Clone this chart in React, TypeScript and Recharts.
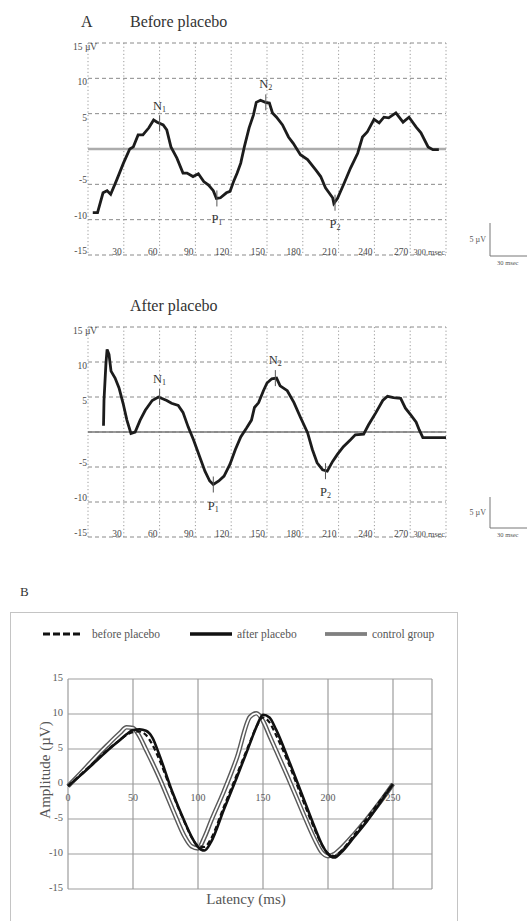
import React from "react";
import {
  LineChart,
  Line,
  XAxis,
  YAxis,
  CartesianGrid,
  ReferenceLine,
  ReferenceDot,
} from "recharts";

const serif = '"Liberation Serif", "DejaVu Serif", serif';

// panel A axes
const msTicks = [0, 30, 60, 90, 120, 150, 180, 210, 240, 270, 300];
const uvTicks = [-15, -10, -5, 0, 5, 10, 15];

// before placebo trace (ms, µV)
const beforeMs = [
  4, 8, 12.6, 16, 19, 24, 29.7, 35, 38, 42, 46, 51, 55, 58, 63, 66, 69.5, 74.5, 79.6, 83, 88,
  92.5, 97, 101, 105, 107.6, 111, 116, 119, 122, 125, 128, 131, 135, 138.6, 141, 144.5, 148.7,
  152, 154.6, 158, 163, 168, 172, 178, 184, 191, 195, 199, 205, 206, 209, 214, 220, 226, 230,
  234, 239.7, 244, 248, 252, 258, 264, 269, 275, 279, 285, 289, 294,
];
const beforeUv = [
  -9, -9, -6.2, -5.9, -6.4, -4.4, -2, 0, 0.3, 2, 2, 3, 4.1, 3.8, 3.4, 2.7, 0.3, -1.3, -3.4, -3.4,
  -3.9, -3.5, -4.6, -5.1, -5.9, -7, -6.9, -6.2, -6, -4.6, -3.4, -2, 0.3, 3, 4.8, 6.6, 6.9, 6.6,
  6.5, 5.1, 4.5, 3.4, 1.7, 0.8, -0.8, -1.5, -3, -3.9, -5.5, -6.9, -7.7, -7, -5.1, -2.7, -0.6,
  1.7, 2.4, 4.2, 3.7, 4.5, 4.4, 5.1, 3.8, 4.5, 3.1, 2.3, 0.3, -0.1, -0.1,
];

// after placebo trace (ms, µV)
const afterMs = [
  13, 13.4, 15, 16, 17.6, 19.3, 22.7, 26, 29.4, 32.6, 36, 39.5, 43.7, 48, 53.8, 59, 66, 70,
  75.6, 79.6, 84, 88.4, 93.5, 98, 102, 105, 109.6, 114, 119, 123.5, 128, 133, 137, 139.5, 143,
  147, 150, 154, 158, 161, 167, 172.6, 178, 184, 188, 192, 196.6, 200.5, 205, 209, 214, 220,
  224, 231, 235, 241, 247, 251, 256, 262, 266, 270.6, 275, 277.6, 280.6, 287, 300,
];
const afterUv = [
  0.9, 4.5, 9.7, 11.8, 11.1, 8.7, 7.7, 6.3, 4.1, 1.7, -0.2, 0, 1.7, 3.1, 4.5, 5, 4.5, 4.1, 3.8,
  2.8, 0.7, -1.1, -3.5, -5.6, -7, -7.5, -7, -6.3, -4.6, -2.5, -0.7, 0.6, 1.7, 3.5, 4.2, 5.9, 7,
  7.6, 7.7, 6.6, 5.9, 4.2, 2.1, -0.1, -2.5, -4.4, -5.4, -5.6, -4.2, -3.2, -2.1, -1.1, -0.4,
  -0.3, 1, 2.7, 4.5, 5.1, 4.9, 4.8, 3.4, 2.4, 1.4, 0.3, -0.8, -0.8, -0.8,
];

// peak markers
const peakNames = ["N", "P", "N", "P"];
const peakSubs = ["1", "1", "2", "2"];
const beforePeakMs = [60, 108, 149, 207];
const beforePeakUv = [3.6, -7, 6.6, -7.6];
const afterPeakMs = [60, 105, 157, 199];
const afterPeakUv = [5.0, -7.5, 7.7, -5.6];

// panel B
const latency = [
  0, 10, 20, 30, 40, 45, 50, 55, 60, 65, 70, 80, 90, 95, 100, 105, 110, 120, 130, 140, 145, 150,
  155, 160, 170, 180, 190, 195, 200, 205, 210, 220, 230, 240, 250,
];
const grpBefore = [
  -0.3, 1.4, 3.1, 4.8, 6.3, 7.0, 7.4, 7.5, 7.0, 5.6, 3.6, -1.2, -5.6, -7.6, -8.8, -9.0, -7.8,
  -3.2, 1.4, 6.0, 8.2, 9.5, 8.8, 7.0, 2.8, -2.0, -6.6, -8.6, -9.9, -10.3, -9.6, -7.3, -4.9, -2.4, 0,
];
const grpAfter = [
  -0.3, 1.3, 3.0, 4.7, 6.3, 7.1, 7.7, 7.8, 7.6, 6.6, 4.3, -1.0, -5.5, -7.5, -9.0, -9.5, -8.3,
  -3.6, 1.0, 5.8, 8.2, 9.9, 9.5, 7.8, 3.3, -1.5, -6.3, -8.5, -10.0, -10.5, -9.8, -7.6, -5.3, -2.7, 0,
];
const grpControl = [
  -0.3, 1.6, 3.6, 5.5, 7.3, 8.1, 8.0, 6.8, 4.9, 3.0, 1.0, -3.4, -7.6, -8.9, -9.2, -7.6, -5.3,
  -1.0, 3.8, 9.6, 10.1, 9.0, 6.9, 4.8, 0.6, -3.8, -8.0, -9.7, -10.3, -10.0, -9.2, -7.2, -5.0, -2.6, 0,
];
const latTicks = [0, 50, 100, 150, 200, 250];
const ampTicks = [-15, -10, -5, 0, 5, 10, 15];

const tickStyle = { fill: "#4a4a4a", stroke: "none" };

const MsTick = (props: any) => {
  const { x, y, payload } = props;
  if (payload.value === 0) return <g />;
  const last = payload.value === 300;
  return (
    <text
      x={x - (last ? 1 : 2)}
      y={y - 3}
      textAnchor="end"
      dominantBaseline="central"
      fontSize={last ? 8.3 : 9.5}
      style={tickStyle}
      fontFamily={serif}
    >
      {last ? "300 msec" : String(payload.value)}
    </text>
  );
};

const UvTick = (props: any) => {
  const { x, y, payload } = props;
  const v = payload.value;
  if (v === 0) return <g />;
  const dy = v > 0 ? 4 : -4;
  if (v === 15) {
    return (
      <text x={x - 15} y={y + dy} textAnchor="start" dominantBaseline="central" fontSize={9.5} style={tickStyle} fontFamily={serif}>
        15 µV
      </text>
    );
  }
  return (
    <text x={x - 1} y={y + dy} textAnchor="end" dominantBaseline="central" fontSize={9.5} style={tickStyle} fontFamily={serif}>
      {v}
    </text>
  );
};

function PeakMark({ cx, cy, name, sub }: any) {
  const up = name === "N";
  return (
    <g>
      <line x1={cx} x2={cx} y1={cy - 8} y2={cy + 8} stroke="#555" strokeWidth={1} />
      <text x={cx} y={up ? cy - 14 : cy + 25} textAnchor="middle" fontSize={12.5} style={{ fill: "#333" }} fontFamily={serif}>
        {name}
        <tspan fontSize={8} dy={2}>
          {sub}
        </tspan>
      </text>
    </g>
  );
}

function TraceChart({ top, ms, uv, pMs, pUv, zeroColor, zeroWidth, plotTop, plotBottom }: any) {
  const H = 280;
  const data = ms.map((m: number, i: number) => ({ ms: m, uv: uv[i] }));
  return (
    <div style={{ position: "absolute", left: 0, top }}>
      <LineChart
        width={527}
        height={H}
        data={data}
        margin={{ top: plotTop, right: 81, bottom: H - plotBottom - 1, left: 58 }}
      >
        <CartesianGrid vertical={false} stroke="#8a8a8a" strokeDasharray="4 3" />
        <CartesianGrid horizontal={false} stroke="#9a9a9a" strokeDasharray="1.2 2.4" />
        <XAxis
          type="number"
          dataKey="ms"
          domain={[0, 300]}
          ticks={msTicks}
          interval={0}
          axisLine={false}
          tickLine={false}
          tickSize={0}
          tickMargin={0}
          height={1}
          tick={(p: any) => <MsTick {...p} />}
        />
        <YAxis
          type="number"
          domain={[-15, 15]}
          ticks={uvTicks}
          interval={0}
          axisLine={false}
          tickLine={false}
          tickSize={0}
          tickMargin={0}
          width={30}
          tick={(p: any) => <UvTick {...p} />}
        />
        <ReferenceLine y={0} stroke={zeroColor} strokeWidth={zeroWidth} />
        <Line type="linear" dataKey="uv" stroke="#1c1c1c" strokeWidth={2.8} dot={false} isAnimationActive={false} />
        {pMs.map((m: number, i: number) => (
          <ReferenceDot
            key={i}
            x={m}
            y={pUv[i]}
            r={0}
            shape={(sp: any) => <PeakMark cx={sp.cx} cy={sp.cy} name={peakNames[i]} sub={peakSubs[i]} />}
          />
        ))}
      </LineChart>
    </div>
  );
}

const B_PLOT_H = 210;

const LatTick = (props: any) => {
  const { x, y, payload } = props;
  return (
    <text x={x} y={y - B_PLOT_H / 2 + 13} textAnchor="middle" dominantBaseline="central" fontSize={10} style={{ fill: "#5a5a5a" }} fontFamily={serif}>
      {payload.value}
    </text>
  );
};

const AmpTick = (props: any) => {
  const { x, y, payload } = props;
  return (
    <text x={x - 5} y={y - 2} textAnchor="end" dominantBaseline="central" fontSize={10.5} style={{ fill: "#5a5a5a" }} fontFamily={serif}>
      {payload.value}
    </text>
  );
};

function GroupChart() {
  const data = latency.map((t, i) => ({
    t,
    before: grpBefore[i],
    after: grpAfter[i],
    control: grpControl[i],
  }));
  return (
    <div style={{ position: "absolute", left: 0, top: 560 }}>
      <LineChart width={470} height={361} data={data} margin={{ top: 119, right: 38, bottom: 31, left: 38 }}>
        <CartesianGrid stroke="#9d9d9d" strokeWidth={1.2} />
        <XAxis
          type="number"
          dataKey="t"
          domain={[0, 280]}
          ticks={latTicks}
          interval={0}
          axisLine={false}
          tickLine={false}
          tickSize={0}
          tickMargin={0}
          height={1}
          tick={(p: any) => <LatTick {...p} />}
        />
        <YAxis
          type="number"
          domain={[-15, 15]}
          ticks={ampTicks}
          interval={0}
          axisLine={false}
          tickLine={false}
          tickSize={0}
          tickMargin={0}
          width={30}
          tick={(p: any) => <AmpTick {...p} />}
        />
        <Line type="monotone" dataKey="control" stroke="#5a5a5a" strokeWidth={4.6} dot={false} isAnimationActive={false} />
        <Line type="monotone" dataKey="control" stroke="#ffffff" strokeWidth={1.7} dot={false} isAnimationActive={false} />
        <Line type="monotone" dataKey="after" stroke="#111" strokeWidth={2.6} dot={false} isAnimationActive={false} />
        <Line type="monotone" dataKey="before" stroke="#111" strokeWidth={2.2} strokeDasharray="5 3" dot={false} isAnimationActive={false} />
      </LineChart>
    </div>
  );
}

export default function App() {
  return (
    <div
      style={{
        position: "absolute",
        left: 0,
        top: 0,
        width: 527,
        height: 921,
        overflow: "hidden",
        background: "#fff",
        fontFamily: serif,
      }}
    >
      <div style={{ position: "absolute", left: 81, top: 14, fontSize: 16, lineHeight: "16px", color: "#333" }}>A</div>
      <div style={{ position: "absolute", left: 130, top: 14, fontSize: 16, lineHeight: "16px", color: "#333" }}>
        Before placebo
      </div>
      <div style={{ position: "absolute", left: 130, top: 298, fontSize: 16, lineHeight: "16px", color: "#333" }}>
        After placebo
      </div>

      <TraceChart
        top={0}
        ms={beforeMs}
        uv={beforeUv}
        pMs={beforePeakMs}
        pUv={beforePeakUv}
        zeroColor="#acacac"
        zeroWidth={2.5}
        plotTop={43}
        plotBottom={255}
      />
      <TraceChart
        top={284}
        ms={afterMs}
        uv={afterUv}
        pMs={afterPeakMs}
        pUv={afterPeakUv}
        zeroColor="#777"
        zeroWidth={1.3}
        plotTop={43}
        plotBottom={253}
      />

      <div style={{ position: "absolute", left: 20, top: 585, fontSize: 13, lineHeight: "13px", color: "#333" }}>B</div>
      <div
        style={{
          position: "absolute",
          left: 10,
          top: 612,
          width: 446,
          height: 330,
          border: "1.5px solid #c4c4c4",
        }}
      />
      <GroupChart />
      <div
        style={{
          position: "absolute",
          left: 45,
          top: 770,
          transform: "translate(-50%, -50%) rotate(-90deg)",
          fontSize: 15,
          whiteSpace: "nowrap",
          color: "#555",
        }}
      >
        Amplitude (µV)
      </div>
      <div
        style={{
          position: "absolute",
          left: 246,
          top: 899,
          transform: "translate(-50%, -50%)",
          fontSize: 15,
          whiteSpace: "nowrap",
          color: "#555",
        }}
      >
        Latency (ms)
      </div>

      <svg width={527} height={921} style={{ position: "absolute", left: 0, top: 0, pointerEvents: "none" }}>
        {/* scale bars */}
        <polyline points="490,223 490,256 527,256" fill="none" stroke="#777" strokeWidth={1} />
        <text x={486} y={242} textAnchor="end" fontSize={8} fill="#555" fontFamily={serif}>5 µV</text>
        <text x={497} y={265} fontSize={6.5} fill="#555" fontFamily={serif}>30 msec</text>
        <polyline points="490,497 490,528 527,528" fill="none" stroke="#777" strokeWidth={1} />
        <text x={486} y={515} textAnchor="end" fontSize={8} fill="#555" fontFamily={serif}>5 µV</text>
        <text x={497} y={537} fontSize={6.5} fill="#555" fontFamily={serif}>30 msec</text>

        {/* legend */}
        <line x1={43} x2={82} y1={634} y2={634} stroke="#111" strokeWidth={3.2} strokeDasharray="7 3" />
        <text x={92} y={638} fontSize={11.5} fill="#555" fontFamily={serif}>before placebo</text>
        <line x1={190} x2={232} y1={634} y2={634} stroke="#111" strokeWidth={3.6} />
        <text x={237} y={638} fontSize={11.5} fill="#555" fontFamily={serif}>after placebo</text>
        <line x1={325} x2={367} y1={634} y2={634} stroke="#666" strokeWidth={3.6} />
        <line x1={325} x2={367} y1={634} y2={634} stroke="#999" strokeWidth={1} />
        <text x={372} y={638} fontSize={11.5} fill="#555" fontFamily={serif}>control group</text>
      </svg>
    </div>
  );
}
